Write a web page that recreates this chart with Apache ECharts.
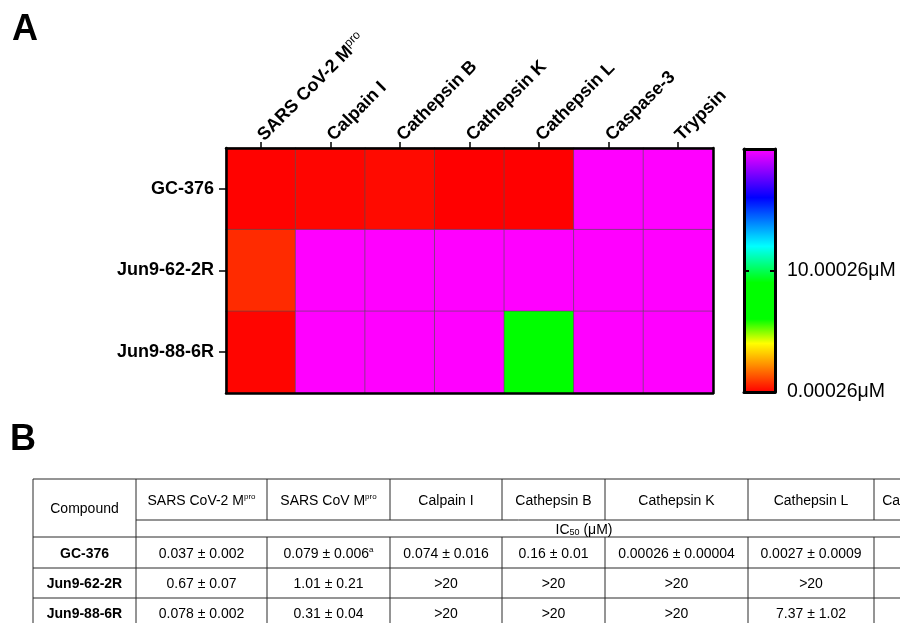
<!DOCTYPE html>
<html>
<head>
<meta charset="utf-8">
<script src="https://cdn.jsdelivr.net/npm/echarts@6/dist/echarts.min.js"></script>
<style>html,body{margin:0;padding:0;background:#fff}#c{width:900px;height:623px}</style>
</head>
<body>
<div id="c"></div>
<script>
// ---------- Data ----------
const enzymes = ['SARS CoV-2 Mpro', 'Calpain I', 'Cathepsin B', 'Cathepsin K', 'Cathepsin L', 'Caspase-3', 'Trypsin'];
const compounds = ['GC-376', 'Jun9-62-2R', 'Jun9-88-6R'];
// IC50 (µM) per enzyme; ">20" drawn as 20
const gc376 = [0.037, 0.074, 0.16, 0.00026, 0.0027, 20, 20];
const jun9_62_2R = [0.67, 20, 20, 20, 20, 20, 20];
const jun9_88_6R = [0.078, 20, 20, 20, 7.37, 20, 20];
const scaleMin = 0.00026;
const scaleMax = 20.00026;
const colorbarTickLabels = ['0.00026μM', '10.00026μM', ''];
const rainbow = ['#ff0000','#ff4000','#ff8000','#ffc000','#ffff00','#80ff00','#00ff00','#00ff00','#00ff00','#00ff00',
                 '#00ff55','#00ffaa','#00ffff','#00c0ff','#0080ff','#0040ff','#0000ff','#4000ff','#8000ff','#c000ff','#ff00ff'];

// Table B
const tableHeaders = ['Compound', 'SARS CoV-2 M{sup|pro}', 'SARS CoV M{sup|pro}', 'Calpain I', 'Cathepsin B', 'Cathepsin K', 'Cathepsin L', 'Caspase-3', 'Trypsin'];
const tableUnitLabel = 'IC{sub|50} (μM)';
const tableCompounds = ['GC-376', 'Jun9-62-2R', 'Jun9-88-6R'];
const rowGC376 = ['0.037 ± 0.002', '0.079 ± 0.006{sup|a}', '0.074 ± 0.016', '0.16 ± 0.01', '0.00026 ± 0.00004', '0.0027 ± 0.0009', '>20', '>20'];
const rowJun9_62_2R = ['0.67 ± 0.07', '1.01 ± 0.21', '>20', '>20', '>20', '>20', '>20', '>20'];
const rowJun9_88_6R = ['0.078 ± 0.002', '0.31 ± 0.04', '>20', '>20', '>20', '7.37 ± 1.02', '>20', '>20'];

// ---------- Build ----------
const FONT = "'Liberation Sans', Arial, Helvetica, sans-serif";
const rowsVals = [gc376, jun9_62_2R, jun9_88_6R];
const heatData = [];
rowsVals.forEach((row, yi) => row.forEach((v, xi) => heatData.push([xi, yi, v])));

// table layout
const colX = [33, 136, 267, 390, 502, 605, 748, 874, 958, 1032];
const rowY = [479, 520, 537, 568, 598, 628];
const LC = '#2a2a2a';
const g = [];
function line(x1, y1, x2, y2) {
  g.push({type: 'line', silent: true, shape: {x1, y1, x2, y2}, style: {stroke: LC, lineWidth: 1}});
}
function text(x, y, t, bold) {
  g.push({type: 'text', silent: true, x, y: y + 1.5, style: {
    text: t, fill: '#000', font: (bold ? 'bold ' : '') + '14px ' + FONT, align: 'center', verticalAlign: 'middle',
    rich: {
      sup: {fontSize: 8, verticalAlign: 'top', fontFamily: FONT, fill: '#000', lineHeight: 16},
      sub: {fontSize: 9, verticalAlign: 'bottom', fontFamily: FONT, fill: '#000', lineHeight: 14}
    }
  }});
}
const tl = colX[0], tr = colX[colX.length - 1];
line(tl, rowY[0], tr, rowY[0]);
line(colX[1], rowY[1], tr, rowY[1]);
for (let i = 2; i < rowY.length; i++) line(tl, rowY[i], tr, rowY[i]);
colX.forEach((x, i) => {
  line(x, rowY[0], x, rowY[1]);
  if (i <= 1 || i === colX.length - 1) line(x, rowY[1], x, rowY[2]);
  line(x, rowY[2], x, rowY[5]);
});
tableHeaders.forEach((h, i) => {
  const cx = (colX[i] + colX[i + 1]) / 2;
  const cy = i === 0 ? (rowY[0] + rowY[2]) / 2 : (rowY[0] + rowY[1]) / 2;
  text(cx, cy, h, false);
});
text((colX[1] + tr) / 2, (rowY[1] + rowY[2]) / 2, tableUnitLabel, false);
[rowGC376, rowJun9_62_2R, rowJun9_88_6R].forEach((r, ri) => {
  const cy = (rowY[ri + 2] + rowY[ri + 3]) / 2;
  text((colX[0] + colX[1]) / 2, cy, tableCompounds[ri], true);
  r.forEach((v, ci) => text((colX[ci + 1] + colX[ci + 2]) / 2, cy, v, false));
});
g.push({type: 'text', silent: true, x: 12, y: 30, style: {text: 'A', font: 'bold 36px ' + FONT, fill: '#000', verticalAlign: 'middle'}});
g.push({type: 'text', silent: true, x: 10, y: 440, style: {text: 'B', font: 'bold 36px ' + FONT, fill: '#000', verticalAlign: 'middle'}});

const blackLine = {show: true, onZero: false, lineStyle: {color: '#000', width: 2.5}};
const barLine = {show: true, onZero: false, lineStyle: {color: '#000', width: 3}};
const option = {
  animation: false,
  backgroundColor: '#fff',
  grid: [
    {left: 226, top: 148, width: 487, height: 245},
    {left: 744, top: 149, width: 31, height: 243}
  ],
  xAxis: [
    {gridIndex: 0, type: 'category', position: 'top', data: enzymes, z: 10,
     axisLine: blackLine,
     axisTick: {show: true, alignWithLabel: true, length: 6, lineStyle: {color: '#000', width: 1.5}},
     axisLabel: {interval: 0, rotate: -45, margin: 10, color: '#000', fontFamily: FONT, fontWeight: 'bold', fontSize: 18,
       formatter: v => v.replace('Mpro', 'M{sup|pro}'),
       rich: {sup: {fontSize: 12, fontWeight: 'normal', fontFamily: FONT, color: '#000', verticalAlign: 'top', lineHeight: 22}}},
     splitLine: {show: false}},
    {gridIndex: 0, type: 'category', position: 'bottom', data: enzymes, z: 10,
     axisLine: blackLine, axisTick: {show: false}, axisLabel: {show: false}, splitLine: {show: false}},
    {gridIndex: 1, type: 'value', position: 'top', min: 0, max: 1, z: 10,
     axisLine: barLine, axisTick: {show: false}, axisLabel: {show: false}, splitLine: {show: false}},
    {gridIndex: 1, type: 'value', position: 'bottom', min: 0, max: 1, z: 10,
     axisLine: barLine, axisTick: {show: false}, axisLabel: {show: false}, splitLine: {show: false}}
  ],
  yAxis: [
    {gridIndex: 0, type: 'category', inverse: true, position: 'left', data: compounds, z: 10,
     axisLine: blackLine,
     axisTick: {show: true, alignWithLabel: true, length: 7, lineStyle: {color: '#000', width: 1.5}},
     axisLabel: {margin: 12, color: '#000', fontFamily: FONT, fontWeight: 'bold', fontSize: 18},
     splitLine: {show: false}},
    {gridIndex: 0, type: 'category', inverse: true, position: 'right', data: compounds, z: 10,
     axisLine: blackLine, axisTick: {show: false}, axisLabel: {show: false}, splitLine: {show: false}},
    {gridIndex: 1, type: 'value', position: 'right', min: 0, max: 20, interval: 10, z: 10,
     axisLine: barLine,
     axisTick: {show: true, inside: true, length: 5, lineStyle: {color: '#000', width: 2}},
     axisLabel: {margin: 12, color: '#000', fontFamily: FONT, fontSize: 19.5,
       formatter: (v, i) => colorbarTickLabels[i] || ''},
     splitLine: {show: false}},
    {gridIndex: 1, type: 'value', position: 'left', min: 0, max: 20, interval: 10, z: 10,
     axisLine: barLine,
     axisTick: {show: true, inside: true, length: 5, lineStyle: {color: '#000', width: 2}},
     axisLabel: {show: false}, splitLine: {show: false}}
  ],
  visualMap: {
    type: 'continuous', min: scaleMin, max: scaleMax, dimension: 2, seriesIndex: 0, z: 1,
    calculable: false, hoverLink: false, text: null, showLabel: false,
    left: 744, top: 149, itemWidth: 31, itemHeight: 243, padding: 0,
    inRange: {color: rainbow}
  },
  series: [{
    type: 'heatmap', xAxisIndex: 0, yAxisIndex: 0, data: heatData,
    itemStyle: {borderColor: 'rgba(80,80,80,0.6)', borderWidth: 1},
    emphasis: {disabled: true}
  }],
  graphic: g
};
const chart = echarts.init(document.getElementById('c'), null, {renderer: 'canvas'});
chart.setOption(option);
</script>
</body>
</html>
